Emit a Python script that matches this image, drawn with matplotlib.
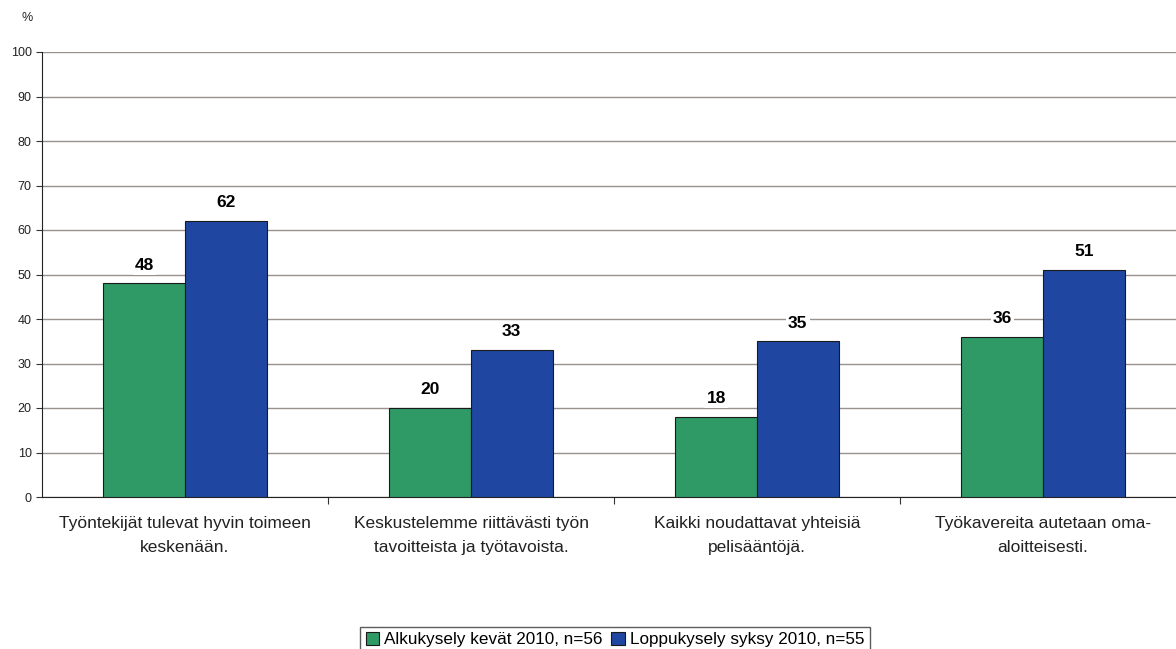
import numpy as np
import matplotlib.pyplot as plt

plt.rcParams['font.family'] = ['Liberation Sans', 'DejaVu Sans']

kysymykset = ["Työntekijät tulevat hyvin toimeen\nkeskenään.",
              "Keskustelemme riittävästi työn\ntavoitteista ja työtavoista.",
              "Kaikki noudattavat yhteisiä\npelisääntöjä.",
              "Työkavereita autetaan oma-\naloitteisesti."]
alku = [48, 20, 18, 36]
loppu = [62, 33, 35, 51]
sarjat = ["Alkukysely kevät 2010, n=56", "Loppukysely syksy 2010, n=55"]

fig = plt.figure(figsize=(11.76, 6.49), dpi=100)
ax = fig.add_axes([42/1176, 1-497/649, 1-42/1176, (497-52)/649])

x = np.arange(len(kysymykset))
w = 0.285
b1 = ax.bar(x - w/2, alku, w, color='#2f9a66', edgecolor='#1a1a1a', linewidth=0.8,
            label=sarjat[0], zorder=3)
b2 = ax.bar(x + w/2, loppu, w, color='#1f46a0', edgecolor='#1a1a1a', linewidth=0.8,
            label=sarjat[1], zorder=3)

for bars in (b1, b2):
    for r in bars:
        v = r.get_height()
        ax.text(r.get_x() + r.get_width()/2, v + 2.4, f"{v:.0f}", ha='center', va='bottom',
                fontsize=12.5, fontweight='bold', zorder=4,
                bbox=dict(facecolor='white', edgecolor='none', pad=1.5))

ax.set_ylim(0, 100)
ax.set_xlim(-0.5, 3.5 - 10/286)
ax.set_yticks(range(0, 101, 10))
ax.yaxis.grid(True, color='#9b918c', linewidth=1.0, zorder=0)
ax.set_axisbelow(True)

# tick marks at category boundaries, names written under the centres
ax.set_xticks(np.arange(0.5, 3.5, 1.0))
ax.set_xticklabels([])
ax.tick_params(axis='x', length=5, direction='out', color='#333333')
ax.tick_params(axis='y', length=4, direction='out', labelsize=9, color='#333333',
               labelcolor='#222222')
for xi, nimi in zip(x, kysymykset):
    ax.text(xi, -0.043, nimi, transform=ax.get_xaxis_transform(), ha='center', va='top',
            fontsize=12.5, color='#222222', linespacing=1.7, multialignment='center')

for s in ('top', 'right'):
    ax.spines[s].set_visible(False)
ax.spines['left'].set_color('#222222')
ax.spines['bottom'].set_color('#222222')

fig.text(27/1176, 1-18/649, "%", fontsize=9, ha='center', va='center', color='#222222')

fig.legend(handles=[b1, b2], loc='lower center', bbox_to_anchor=(615/1176, -12/649),
           ncol=2, fontsize=12.3, frameon=True, fancybox=False, edgecolor='#333333',
           handlelength=0.8, handleheight=0.8, handletextpad=0.3, columnspacing=0.5,
           borderpad=0.3)

fig.savefig('out.png', dpi=100)
